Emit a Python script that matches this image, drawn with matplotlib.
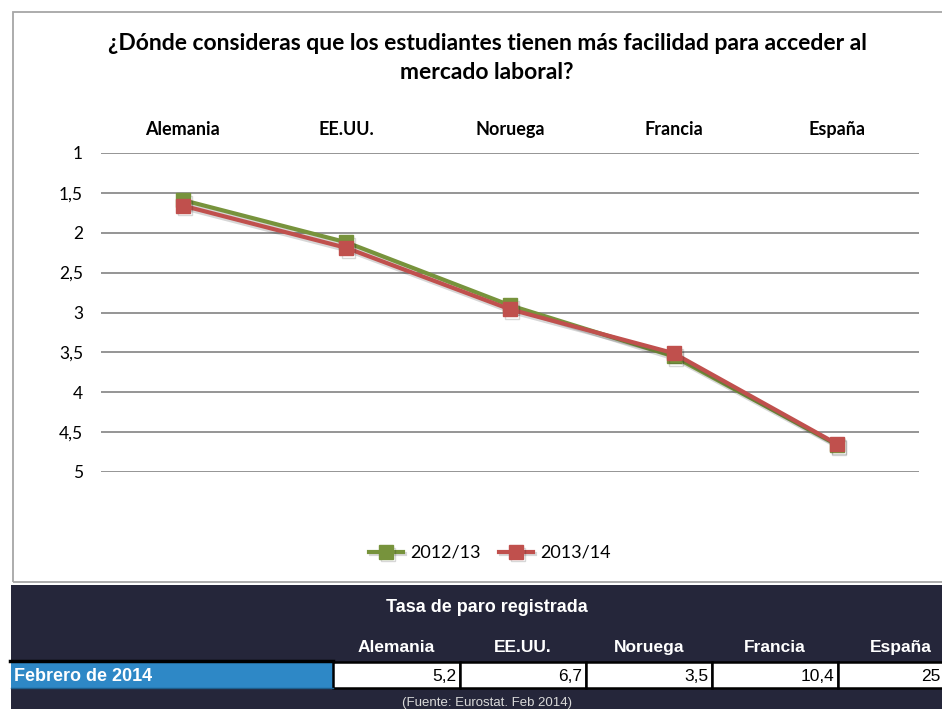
import numpy                            as np
from matplotlib import pyplot           as plt
from matplotlib import patheffects      as pe
from matplotlib.patches import Rectangle

# datos del gráfico
PAISES      = ['Alemania', 'EE.UU.', 'Noruega', 'Francia', 'España']
SERIE_1213  = [1.59, 2.12, 2.91, 3.55, 4.66]
SERIE_1314  = [1.66, 2.19, 2.96, 3.51, 4.65]
ETIQUETAS   = ['2012/13', '2013/14']
Y_TICKS     = [1, 1.5, 2, 2.5, 3, 3.5, 4, 4.5, 5]
TITULO      = '¿Dónde consideras que los estudiantes tienen más facilidad para acceder al\nmercado laboral?'

# datos de la tabla
TABLA_TITULO    = 'Tasa de paro registrada'
TABLA_PAISES    = ['Alemania', 'EE.UU.', 'Noruega', 'Francia', 'España']
TABLA_FILA      = 'Febrero de 2014'
TABLA_VALORES   = ['5,2', '6,7', '3,5', '10,4', '25']
FUENTE          = '(Fuente: Eurostat. Feb 2014)'

VERDE   = '#77933C'
ROJO    = '#C0504D'
NAVY    = '#25263A'
AZUL    = '#2E88C6'

W, H = 942, 709
fig = plt.figure(figsize=(W / 100, H / 100), dpi=100)
fig.patch.set_facecolor('white')

# marco del gráfico
fig.patches.append(Rectangle((13 / W, 1 - 582 / H), 1.0, (582 - 12) / H, transform=fig.transFigure,
                             fill=False, edgecolor='#A6A6A6', linewidth=1.3, zorder=0))

ax = fig.add_axes([101 / W, 1 - 472 / H, (919 - 101) / W, (472 - 153) / H])
x = np.arange(len(PAISES))
sombra = [pe.SimpleLineShadow(offset=(1.5, -2), alpha=0.18, shadow_color='#222222'), pe.Normal()]
ax.plot(x, SERIE_1213, '-s', color=VERDE, lw=3, markersize=10, label=ETIQUETAS[0],
        path_effects=sombra, zorder=3)
ax.plot(x, SERIE_1314, '-s', color=ROJO, lw=3, markersize=10, label=ETIQUETAS[1],
        path_effects=sombra, zorder=4)

ax.set_xlim(-0.5, len(PAISES) - 0.5)
ax.set_ylim(max(Y_TICKS), min(Y_TICKS))
ax.set_yticks(Y_TICKS, [('%g' % t).replace('.', ',') for t in Y_TICKS])
ax.set_xticks(x, PAISES)
ax.xaxis.tick_top()
ax.tick_params(axis='x', length=0, pad=11, labelsize=13)
ax.tick_params(axis='y', length=0, pad=13, labelsize=12.5)
for lab in ax.get_xticklabels():
    lab.set_fontweight('bold')
    lab.set_fontfamily('Lato')
for lab in ax.get_yticklabels():
    lab.set_fontfamily('Lato')
ax.grid(axis='y', color='#8C8C8C', linewidth=1.3)
ax.set_axisbelow(True)
for s in ax.spines.values():
    s.set_visible(False)

fig.text(487 / W, 1 - 58 / H, TITULO, ha='center', va='center', fontsize=16.5, fontweight='bold',
         family='Lato', linespacing=1.45)

fig.legend(loc='center', bbox_to_anchor=(490 / W, 1 - 553 / H), ncol=2, frameon=False,
           handlelength=1.9, columnspacing=1.0, handletextpad=0.4,
           prop={'family': 'Lato', 'size': 13})

# tabla inferior (coordenadas en píxeles)
tab = fig.add_axes([0, 0, 1, 1 - 585 / H])
tab.set_xlim(0, W)
tab.set_ylim(709, 585)
tab.axis('off')
tab.add_patch(Rectangle((11, 585), W, 130, facecolor=NAVY, edgecolor='none'))
tab.text(487, 612, TABLA_TITULO, ha='center', va='baseline', color='white', fontsize=13,
         fontweight='bold', family='Liberation Sans')

bordes = [333, 460, 586, 712, 838, 944]
fila_y0, fila_y1 = 662, 688
tab.add_patch(Rectangle((11, fila_y0), bordes[0] - 11, fila_y1 - fila_y0, facecolor=AZUL, edgecolor='none'))
tab.plot([10, bordes[0]], [fila_y0 - 1, fila_y0 - 1], color='black', lw=2.5)
tab.plot([11, bordes[0]], [fila_y1, fila_y1], color='#1D5E8C', lw=1)
tab.text(14, 681, TABLA_FILA, ha='left', va='baseline', color='white', fontsize=13,
         fontweight='bold', family='Liberation Sans')
for i, (pais, val) in enumerate(zip(TABLA_PAISES, TABLA_VALORES)):
    x0, x1 = bordes[i], bordes[i + 1]
    tab.add_patch(Rectangle((x0, fila_y0), x1 - x0, fila_y1 - fila_y0, facecolor='white',
                            edgecolor='black', linewidth=1.8))
    tab.text((x0 + x1) / 2 if i < len(TABLA_PAISES) - 1 else 901, 652, pais, ha='center', va='baseline',
             color='white', fontsize=12.5, fontweight='bold', family='Liberation Sans')
    tab.text(x1 - 4, 681, val, ha='right', va='baseline', color='black', fontsize=12.5,
             family='Liberation Sans')
tab.text(487, 706, FUENTE, ha='center', va='baseline', color='#D9D9D9', fontsize=9.5,
         family='Liberation Sans')

plt.savefig('out.png', dpi=100)
